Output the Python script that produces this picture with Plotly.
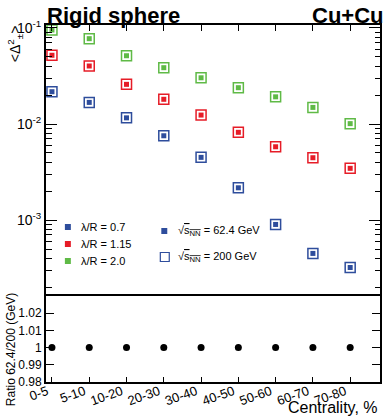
import plotly.graph_objects as go

# ---------------- data ----------------
centrality = ["0-5", "5-10", "10-20", "20-30", "30-40", "40-50", "50-60", "60-70", "70-80"]
xpos = list(range(len(centrality)))

# <Delta^2_pm> for the rigid sphere model, Cu+Cu (62.4 GeV and 200 GeV coincide)
lam07_624 = [0.0217, 0.0168, 0.0116, 0.00755, 0.00450, 0.00217, 0.000901, 0.000450, 0.000321]
lam07_200 = [0.0217, 0.0168, 0.0116, 0.00755, 0.00450, 0.00217, 0.000901, 0.000450, 0.000321]
lam115_624 = [0.0520, 0.0402, 0.0259, 0.0181, 0.0124, 0.0082, 0.0058, 0.00446, 0.00346]
lam115_200 = [0.0520, 0.0402, 0.0259, 0.0181, 0.0124, 0.0082, 0.0058, 0.00446, 0.00346]
lam20_624 = [0.0953, 0.0774, 0.0514, 0.0386, 0.0303, 0.0239, 0.0192, 0.0149, 0.0101]
lam20_200 = [0.0953, 0.0774, 0.0514, 0.0386, 0.0303, 0.0239, 0.0192, 0.0149, 0.0101]
ratio_624_200 = [1.0, 1.0, 1.0, 1.0, 1.0, 1.0, 1.0, 1.0, 1.0]

series_names = ["λ/R = 0.7", "λ/R = 1.15", "λ/R = 2.0"]
series_624 = [lam07_624, lam115_624, lam20_624]
series_200 = [lam07_200, lam115_200, lam20_200]
colors = ["#2e4d9c", "#e61c27", "#5fba46"]

major_y = [1e-3, 1e-2, 1e-1]
major_y_text = ["10<sup>-3</sup>", "10<sup>-2</sup>", "10<sup>-1</sup>"]
minor_y = [m * 10 ** e for e in (-4, -3, -2) for m in range(2, 10)]
ratio_ticks = [0.98, 0.99, 1.0, 1.01, 1.02]
ratio_tick_text = ["0.98", "0.99", "1", "1.01", "1.02"]

# ---------------- geometry helpers (pixels -> paper) ----------------
W, H = 384, 419
ML, MR, MT, MB = 46, 2, 25, 37
PW, PH = W - ML - MR, H - MT - MB
split = (H - MB - 296) / PH


def px(x):
    return (x - ML) / PW


def py(y):
    return (H - MB - y) / PH


FONT = "Liberation Sans, Arial, Helvetica, sans-serif"

fig = go.Figure()

for name, v624, v200, c in zip(series_names, series_624, series_200, colors):
    fig.add_trace(go.Scatter(
        x=xpos, y=v200, mode="markers", name=name + " 200 GeV",
        marker=dict(symbol="square-open", size=10, color=c, line=dict(color=c, width=1.5)),
        cliponaxis=False, xaxis="x", yaxis="y"))
    fig.add_trace(go.Scatter(
        x=xpos, y=v624, mode="markers", name=name + " 62.4 GeV",
        marker=dict(symbol="square", size=5, color=c, line=dict(width=0)),
        cliponaxis=False, xaxis="x", yaxis="y"))

fig.add_trace(go.Scatter(
    x=xpos, y=ratio_624_200, mode="markers", name="ratio",
    marker=dict(symbol="circle", size=7, color="black"),
    cliponaxis=False, xaxis="x2", yaxis="y2"))

axis_common = dict(showgrid=False, zeroline=False, showline=True, linecolor="black",
                   linewidth=2, tickcolor="black", tickwidth=1)

fig.update_layout(
    width=W, height=H,
    margin=dict(l=ML, r=MR, t=MT, b=MB),
    plot_bgcolor="white", paper_bgcolor="white",
    showlegend=False,
    font=dict(family=FONT, color="black"),
    xaxis=dict(axis_common, domain=[0, 1], anchor="y", range=[-0.16, 8.8],
               tickvals=xpos, side="top", ticks="inside", ticklen=6,
               showticklabels=False, mirror=False, matches="x2"),
    yaxis=dict(axis_common, domain=[split, 1], anchor="x", type="log",
               range=[-3.79, -0.969], tickvals=major_y, ticktext=major_y_text,
               ticks="inside", ticklen=11, mirror="allticks",
               tickfont=dict(size=14, family=FONT),
               minor=dict(tickvals=minor_y, ticks="inside", ticklen=5.5,
                          tickcolor="black", tickwidth=1, showgrid=False)),
    xaxis2=dict(axis_common, domain=[0, 1], anchor="y2", range=[-0.16, 8.8],
                tickvals=xpos, ticktext=centrality, tickangle=-20,
                ticks="inside", ticklen=5, mirror=True, ticklabelstandoff=-5,
                ticklabelshift=-5,
                tickfont=dict(size=13, family=FONT)),
    yaxis2=dict(axis_common, domain=[0, split], anchor="x2", range=[0.98, 1.030],
                tickvals=ratio_ticks, ticktext=ratio_tick_text,
                ticks="inside", ticklen=8, mirror="allticks",
                tickfont=dict(size=12, family=FONT)),
)

ann = []
ann.append(dict(text="<b>Rigid sphere</b>", x=px(45), y=py(15), xref="paper", yref="paper",
                xanchor="left", yanchor="middle", showarrow=False,
                font=dict(size=22, family=FONT, color="black")))
ann.append(dict(text="<b>Cu+Cu</b>", x=px(312), y=py(15), xref="paper", yref="paper",
                xanchor="left", yanchor="middle", showarrow=False,
                font=dict(size=22, family=FONT, color="black")))
ann.append(dict(text="&lt;Δ<sup>2</sup><sub>±</sub>&gt;", x=px(15), y=py(44),
                xref="paper", yref="paper", xanchor="center", yanchor="middle",
                textangle=-90, showarrow=False, font=dict(size=14, family=FONT)))
ann.append(dict(text="Ratio 62.4/200 (GeV)", x=px(11), y=py(350),
                xref="paper", yref="paper", xanchor="center", yanchor="middle",
                textangle=-90, showarrow=False, font=dict(size=12, family=FONT)))
ann.append(dict(text="Centrality, %", x=px(382), y=py(407),
                xref="paper", yref="paper", xanchor="right", yanchor="middle",
                showarrow=False, font=dict(size=16, family=FONT)))

shapes = []
# legend 1: lambda/R
leg1_y = [227, 244, 261]
for name, c, yy in zip(series_names, colors, leg1_y):
    shapes.append(dict(type="rect", xref="paper", yref="paper",
                       x0=px(65), x1=px(71), y0=py(yy - 3), y1=py(yy + 3),
                       fillcolor=c, line=dict(width=0)))
    ann.append(dict(text=name, x=px(79), y=py(yy), xref="paper", yref="paper",
                    xanchor="left", yanchor="middle", showarrow=False,
                    font=dict(size=11, family=FONT)))

# legend 2: energies
energy_labels = ["√<span style='text-decoration:overline'>s<sub>NN</sub></span> = 62.4 GeV",
                 "√<span style='text-decoration:overline'>s<sub>NN</sub></span> = 200 GeV"]
shapes.append(dict(type="rect", xref="paper", yref="paper",
                   x0=px(162), x1=px(168), y0=py(228), y1=py(234),
                   fillcolor=colors[0], line=dict(width=0)))
shapes.append(dict(type="rect", xref="paper", yref="paper",
                   x0=px(161), x1=px(170), y0=py(252.5), y1=py(261.5),
                   fillcolor="rgba(0,0,0,0)", line=dict(color=colors[0], width=1.2)))
for lab, yy in zip(energy_labels, [231, 257]):
    ann.append(dict(text=lab, x=px(177), y=py(yy), xref="paper", yref="paper",
                    xanchor="left", yanchor="middle", showarrow=False,
                    font=dict(size=11, family=FONT)))

fig.update_layout(annotations=ann, shapes=shapes)

fig.write_html("out.html")
